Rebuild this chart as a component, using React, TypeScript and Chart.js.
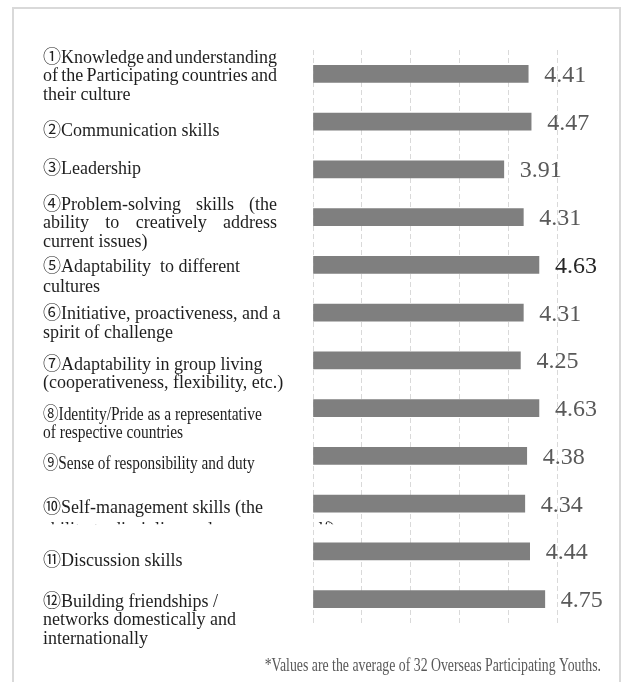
import React, { useEffect, useRef } from 'react';
import { Chart, registerables } from 'chart.js';

Chart.register(...registerables);

// ---- data ----
const categoryLines: string[][] = [
  ['①Knowledge and understanding', 'of the Participating countries and', 'their culture'],
  ['②Communication skills'],
  ['③Leadership'],
  ['④Problem-solving skills (the', 'ability to creatively address', 'current issues)'],
  ['⑤Adaptability  to different', 'cultures'],
  ['⑥Initiative, proactiveness, and a', 'spirit of challenge'],
  ['⑦Adaptability in group living', '(cooperativeness, flexibility, etc.)'],
  ['⑧Identity/Pride as a representative', 'of respective countries'],
  ['⑨Sense of responsibility and duty'],
  ['⑩Self-management skills (the', 'ability to discipline and manage oneself)'],
  ['⑪Discussion skills'],
  ['⑫Building friendships /', 'networks domestically and', 'internationally'],
];
const averageScores: number[] = [4.41, 4.47, 3.91, 4.31, 4.63, 4.31, 4.25, 4.63, 4.38, 4.34, 4.44, 4.75];
const axisMin = 0;
const axisMax = 5;
const footnote = '*Values are the average of 32 Overseas Participating Youths.';

// ---- styling / layout (not data) ----
const W = 621;
const H = 682;
const labelFont = "18px 'Liberation Serif', 'Noto Sans CJK JP', serif";
const valueFont = "24px 'Liberation Serif', serif";
const labelLeft = 43;
const labelBoxWidth = 234;
const lineGap = 18.5;
type LabelStyle = { dy: number; justify?: boolean; squeeze?: number; clip?: number; gap?: number };
const labelStyles: LabelStyle[] = [
  { dy: -16, justify: true },
  { dy: 9.5 },
  { dy: 0 },
  { dy: -12, justify: true },
  { dy: 2, gap: 20 },
  { dy: 2 },
  { dy: 4.5 },
  { dy: 7, squeeze: 0.86 },
  { dy: 8, squeeze: 0.85 },
  { dy: 5, clip: 20.5, gap: 22 },
  { dy: 9.5 },
  { dy: 3 },
];
const emphasizedValueIndex = 4;

function drawJustified(ctx: CanvasRenderingContext2D, text: string, x: number, y: number, width: number) {
  const words = text.split(' ').filter((w) => w.length > 0);
  if (words.length < 2) {
    ctx.fillText(text, x, y);
    return;
  }
  const total = words.reduce((s, w) => s + ctx.measureText(w).width, 0);
  const gap = (width - total) / (words.length - 1);
  let cx = x;
  for (const w of words) {
    ctx.fillText(w, cx, y);
    cx += ctx.measureText(w).width + gap;
  }
}

const decorPlugin = {
  id: 'decor',
  beforeDraw(chart: any) {
    const ctx: CanvasRenderingContext2D = chart.ctx;
    ctx.save();
    ctx.fillStyle = '#ffffff';
    ctx.fillRect(0, 0, chart.width, chart.height);
    ctx.strokeStyle = '#d9d9d9';
    ctx.lineWidth = 2;
    ctx.beginPath();
    ctx.moveTo(13, chart.height);
    ctx.lineTo(13, 8);
    ctx.lineTo(620, 8);
    ctx.lineTo(620, chart.height);
    ctx.stroke();
    ctx.restore();
  },
  afterDatasetsDraw(chart: any) {
    const ctx: CanvasRenderingContext2D = chart.ctx;
    const meta = chart.getDatasetMeta(0);
    ctx.save();
    ctx.font = valueFont;
    ctx.textAlign = 'left';
    ctx.textBaseline = 'alphabetic';
    meta.data.forEach((bar: any, i: number) => {
      ctx.fillStyle = i === emphasizedValueIndex ? '#262626' : '#595959';
      ctx.fillText(averageScores[i].toFixed(2), bar.x + 16, bar.y + 8);
    });
    ctx.restore();
  },
  afterDraw(chart: any) {
    const ctx: CanvasRenderingContext2D = chart.ctx;
    const yScale = chart.scales.y;
    ctx.save();
    ctx.font = labelFont;
    ctx.fillStyle = '#1e1e1e';
    ctx.textAlign = 'left';
    ctx.textBaseline = 'middle';
    categoryLines.forEach((lines, i) => {
      const st = labelStyles[i];
      const yc = yScale.getPixelForValue(i) + st.dy;
      const gap = st.gap ?? lineGap;
      ctx.save();
      if (st.clip !== undefined) {
        ctx.beginPath();
        ctx.rect(0, 0, chart.width, yScale.getPixelForValue(i) + st.clip);
        ctx.clip();
      }
      lines.forEach((line, j) => {
        const y = yc + j * gap;
        if (st.squeeze) {
          ctx.save();
          ctx.translate(labelLeft, y);
          ctx.scale(st.squeeze, 1);
          ctx.fillText(line, 0, 0);
          ctx.restore();
        } else if (st.justify && j < lines.length - 1) {
          drawJustified(ctx, line, labelLeft, y, labelBoxWidth);
        } else {
          ctx.fillText(line, labelLeft, y);
        }
      });
      ctx.restore();
    });
    // footnote
    ctx.font = "18px 'Liberation Serif', serif";
    ctx.fillStyle = '#595959';
    ctx.textBaseline = 'alphabetic';
    const fw = ctx.measureText(footnote).width;
    const sx = 0.767;
    ctx.save();
    ctx.translate(601 - fw * sx, 671);
    ctx.scale(sx, 1);
    ctx.fillText(footnote, 0, 0);
    ctx.restore();
    ctx.restore();
  },
};

export default function App() {
  const ref = useRef<HTMLCanvasElement | null>(null);
  useEffect(() => {
    if (!ref.current) return;
    const chart = new Chart(ref.current, {
      type: 'bar',
      data: {
        labels: categoryLines.map((l) => l.join(' ')),
        datasets: [
          {
            data: averageScores,
            backgroundColor: '#7f7f7f',
            borderWidth: 0,
            barThickness: 17,
          },
        ],
      },
      options: {
        indexAxis: 'y',
        responsive: false,
        animation: false,
        devicePixelRatio: 1,
        layout: { padding: { left: 313, right: 64, top: 50, bottom: 59 } },
        plugins: { legend: { display: false }, tooltip: { enabled: false } },
        scales: {
          x: {
            min: axisMin,
            max: axisMax,
            ticks: { display: false, stepSize: 1 },
            grid: { color: '#d9d9d9', lineWidth: 1, drawTicks: false },
            border: { display: false, dash: [5, 3] },
          },
          y: { display: false },
        },
      },
      plugins: [decorPlugin],
    } as any);
    return () => chart.destroy();
  }, []);
  return (
    <div style={{ position: 'absolute', left: 0, top: 0, width: W, height: H }}>
      <canvas ref={ref} width={W} height={H} style={{ display: 'block', width: W, height: H }} />
    </div>
  );
}
